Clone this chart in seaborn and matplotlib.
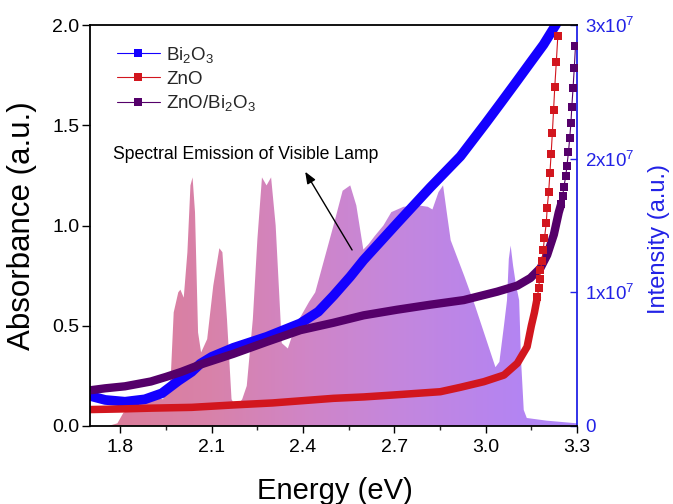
import numpy as np
import pandas as pd
import matplotlib
matplotlib.use("Agg")
import matplotlib.pyplot as plt
import seaborn as sns
from matplotlib.colors import LinearSegmentedColormap
from matplotlib.lines import Line2D

# ---- absorbance spectra (energy in eV, absorbance in a.u.) ----
bi2o3_energy = [1.700, 1.750, 1.815, 1.880, 1.936, 1.990, 2.034, 2.062, 2.100, 2.171,
                2.281, 2.391, 2.450, 2.500, 2.555, 2.599, 2.709, 2.818, 2.917, 3.000,
                3.049, 3.100, 3.147, 3.190, 3.230, 3.245]
bi2o3_abs = [0.150, 0.130, 0.121, 0.133, 0.163, 0.225, 0.270, 0.310, 0.345, 0.390,
             0.445, 0.512, 0.570, 0.650, 0.745, 0.828, 1.011, 1.190, 1.345, 1.510,
             1.610, 1.715, 1.813, 1.902, 2.000, 2.040]

zno_energy = [1.700, 1.800, 1.900, 2.034, 2.171, 2.300, 2.500, 2.600, 2.700, 2.851,
              2.917, 2.994, 3.060, 3.104, 3.136, 3.150, 3.160, 3.170, 3.174, 3.177,
              3.180, 3.185, 3.189, 3.193, 3.199, 3.202, 3.207, 3.211, 3.215, 3.219,
              3.223, 3.227, 3.232, 3.237]
zno_abs = [0.082, 0.085, 0.089, 0.093, 0.105, 0.115, 0.138, 0.145, 0.155, 0.171,
           0.193, 0.221, 0.254, 0.313, 0.395, 0.500, 0.565, 0.645, 0.687, 0.732,
           0.778, 0.824, 0.878, 0.936, 1.011, 1.086, 1.169, 1.261, 1.357, 1.461,
           1.575, 1.692, 1.814, 1.945]

comp_energy = [1.700, 1.750, 1.815, 1.900, 1.950, 2.000, 2.060, 2.171, 2.281, 2.391,
               2.500, 2.599, 2.709, 2.818, 2.928, 3.038, 3.104, 3.147, 3.180, 3.202,
               3.224, 3.240, 3.248, 3.253, 3.257, 3.263, 3.267, 3.272, 3.276, 3.280,
               3.283, 3.287, 3.291, 3.295]
comp_abs = [0.178, 0.188, 0.198, 0.222, 0.245, 0.270, 0.305, 0.360, 0.420, 0.478,
            0.515, 0.552, 0.580, 0.605, 0.628, 0.670, 0.700, 0.738, 0.788, 0.853,
            0.955, 1.065, 1.107, 1.147, 1.194, 1.245, 1.299, 1.366, 1.436, 1.510,
            1.593, 1.684, 1.784, 1.895]

# ---- visible lamp emission (energy in eV, intensity in units of 1e7) ----
lamp_energy = [1.760, 1.790, 1.810, 1.850, 1.900, 1.940, 1.965, 1.975, 1.990, 1.997,
               2.008, 2.020, 2.030, 2.037, 2.045, 2.055, 2.065, 2.085, 2.105, 2.125,
               2.135, 2.150, 2.165, 2.180, 2.200, 2.215, 2.235, 2.250, 2.265, 2.280,
               2.295, 2.310, 2.330, 2.350, 2.375, 2.400, 2.420, 2.440, 2.470, 2.500,
               2.530, 2.555, 2.575, 2.598, 2.615, 2.635, 2.664, 2.690, 2.730, 2.780,
               2.810, 2.825, 2.845, 2.860, 2.872, 2.885, 2.930, 2.965, 3.000, 3.032,
               3.045, 3.060, 3.070, 3.076, 3.082, 3.090, 3.100, 3.110, 3.116, 3.125,
               3.135, 3.200, 3.300]
lamp_intensity = [0.00, 0.02, 0.10, 0.14, 0.22, 0.20, 0.35, 0.85, 1.00, 1.02,
                  0.96, 1.30, 1.80, 1.86, 1.60, 0.70, 0.55, 0.65, 1.05, 1.33,
                  1.30, 0.80, 0.20, 0.14, 0.20, 0.30, 0.80, 1.40, 1.86, 1.80,
                  1.86, 1.50, 0.62, 0.58, 0.75, 0.85, 0.93, 1.00, 1.25, 1.50,
                  1.76, 1.80, 1.65, 1.32, 1.36, 1.42, 1.50, 1.60, 1.64, 1.65,
                  1.64, 1.62, 1.75, 1.80, 1.60, 1.39, 1.12, 0.90, 0.66, 0.44,
                  0.48, 0.75, 0.94, 1.25, 1.35, 1.20, 1.05, 0.94, 0.50, 0.12,
                  0.06, 0.04, 0.02]

x_ticks = [1.8, 2.1, 2.4, 2.7, 3.0, 3.3]
y_ticks = [0.0, 0.5, 1.0, 1.5, 2.0]
intensity_ticks = [0, 1e7, 2e7, 3e7]
intensity_labels = ["0", "1x10$^7$", "2x10$^7$", "3x10$^7$"]

sns.set_theme(style="ticks")
plt.rcParams["font.family"] = ["Liberation Sans", "DejaVu Sans"]
plt.rcParams["mathtext.fontset"] = "custom"
plt.rcParams["mathtext.rm"] = "Liberation Sans"
plt.rcParams["mathtext.it"] = "Liberation Sans:italic"
plt.rcParams["mathtext.bf"] = "Liberation Sans:bold"

axis_blue = "#2222e6"
c_bi = "#1400ff"
c_zno = "#d2161e"
c_comp = "#55006a"
MS = 5.2

fig = plt.figure(figsize=(6.73, 5.04), dpi=100)
ax = fig.add_axes([90 / 673, 78 / 504, 487 / 673, 401 / 504])
ax2 = ax.twinx()
ax.set_zorder(ax2.get_zorder() + 1)
ax.patch.set_visible(False)

# lamp emission: area under the spectrum filled with a pink-to-violet gradient
ax2.set_xlim(1.7, 3.3)
ax2.set_ylim(0, 3e7)
lamp = ax2.fill_between(lamp_energy, np.array(lamp_intensity) * 1e7, 0,
                        facecolor="none", lw=0)
lamp_cmap = LinearSegmentedColormap.from_list(
    "lamp", [(0.0, "#dc7c96"), (0.25, "#d882aa"), (0.44, "#d085c6"),
             (0.62, "#c587dc"), (0.88, "#b484f2"), (1.0, "#ad84f8")])
grad = np.linspace(0, 1, 400).reshape(1, -1)
img = ax2.imshow(grad, extent=[1.7, 3.3, 0, 3e7], origin="lower",
                 aspect="auto", cmap=lamp_cmap, zorder=1)
img.set_clip_path(lamp.get_paths()[0], transform=ax2.transData)

# absorbance curves: the densely sampled part is a solid band,
# the steep edge shows the individual square markers joined by a thin line
series = [
    ("Bi$_2$O$_3$", bi2o3_energy, bi2o3_abs, c_bi, 7.0, 3.30),
    ("ZnO/Bi$_2$O$_3$", comp_energy, comp_abs, c_comp, 6.0, 3.248),
    ("ZnO", zno_energy, zno_abs, c_zno, 5.4, 3.170),
]
handles = {}
for name, e, a, color, band_lw, band_end in series:
    df = pd.DataFrame({"Energy": e, "Absorbance": a})
    band = df[df["Energy"] <= band_end]
    steep = df[df["Energy"] >= band_end]
    sns.lineplot(data=band, x="Energy", y="Absorbance", color=color, lw=band_lw,
                 estimator=None, sort=False, legend=False, ax=ax,
                 solid_capstyle="butt", solid_joinstyle="round")
    sns.lineplot(data=df, x="Energy", y="Absorbance", color=color, lw=0.8,
                 estimator=None, sort=False, legend=False, ax=ax)
    if len(steep) > 0:
        sns.scatterplot(data=steep, x="Energy", y="Absorbance", color=color,
                        marker="s", s=MS ** 2, linewidth=0, legend=False, ax=ax,
                        zorder=3)
    handles[name] = Line2D([], [], color=color, lw=0.8, marker="s",
                           markersize=MS, markeredgewidth=0)

ax.set_xlim(1.7, 3.3)
ax.set_ylim(0, 2.0)
ax.set_xticks(x_ticks)
ax.set_xticklabels([f"{t:.1f}" for t in x_ticks])
ax.set_xticks([1.95, 2.25, 2.55, 2.85, 3.15], minor=True)
ax.set_yticks(y_ticks)
ax.set_yticklabels([f"{t:.1f}" for t in y_ticks])

ax.tick_params(axis="x", which="major", direction="out", length=5, width=1,
               labelsize=14, pad=4, colors="black", top=False)
ax.tick_params(axis="x", which="minor", direction="out", length=3, width=1,
               top=False)
ax.tick_params(axis="y", which="major", direction="out", length=6, width=1,
               labelsize=14, pad=1.5, colors="black", right=False)

for side in ["left", "bottom", "top"]:
    ax.spines[side].set_color("black")
    ax.spines[side].set_linewidth(1.3)
ax.spines["right"].set_visible(False)
for side in ["left", "bottom", "top"]:
    ax2.spines[side].set_visible(False)
ax2.spines["right"].set_color(axis_blue)
ax2.spines["right"].set_linewidth(1.3)

ax2.set_yticks(intensity_ticks)
ax2.set_yticklabels(intensity_labels)
ax2.tick_params(axis="y", direction="in", length=5, width=1, labelsize=13.5,
                pad=6, colors=axis_blue)

ax.set_xlabel("Energy (eV)", fontsize=21, color="black")
ax.set_ylabel("Absorbance (a.u.)", fontsize=22.5, color="black")
ax2.set_ylabel("Intensity (a.u.)", fontsize=17, color=axis_blue)
ax.xaxis.set_label_coords(0.502, -0.128)
ax.yaxis.set_label_coords(-0.108, 0.5)
ax2.yaxis.set_label_coords(1.146, 0.466)

ax.text(1.775, 1.352, "Spectral Emission of Visible Lamp", fontsize=12.7,
        ha="left", va="center", color="black")
ax.annotate("", xy=(2.407, 1.268), xytext=(2.561, 0.878),
            arrowprops=dict(arrowstyle="-|>,head_length=0.5,head_width=0.2",
                            color="black", lw=1, mutation_scale=14,
                            shrinkA=0, shrinkB=0))

order = ["Bi$_2$O$_3$", "ZnO", "ZnO/Bi$_2$O$_3$"]
ax.legend([handles[k] for k in order], order, loc="upper left",
          bbox_to_anchor=(0.055, 0.950), frameon=False, fontsize=13.5,
          handlelength=2.3, handletextpad=0.35, labelspacing=0.3,
          borderpad=0, borderaxespad=0)

fig.savefig("out.png", dpi=100)
